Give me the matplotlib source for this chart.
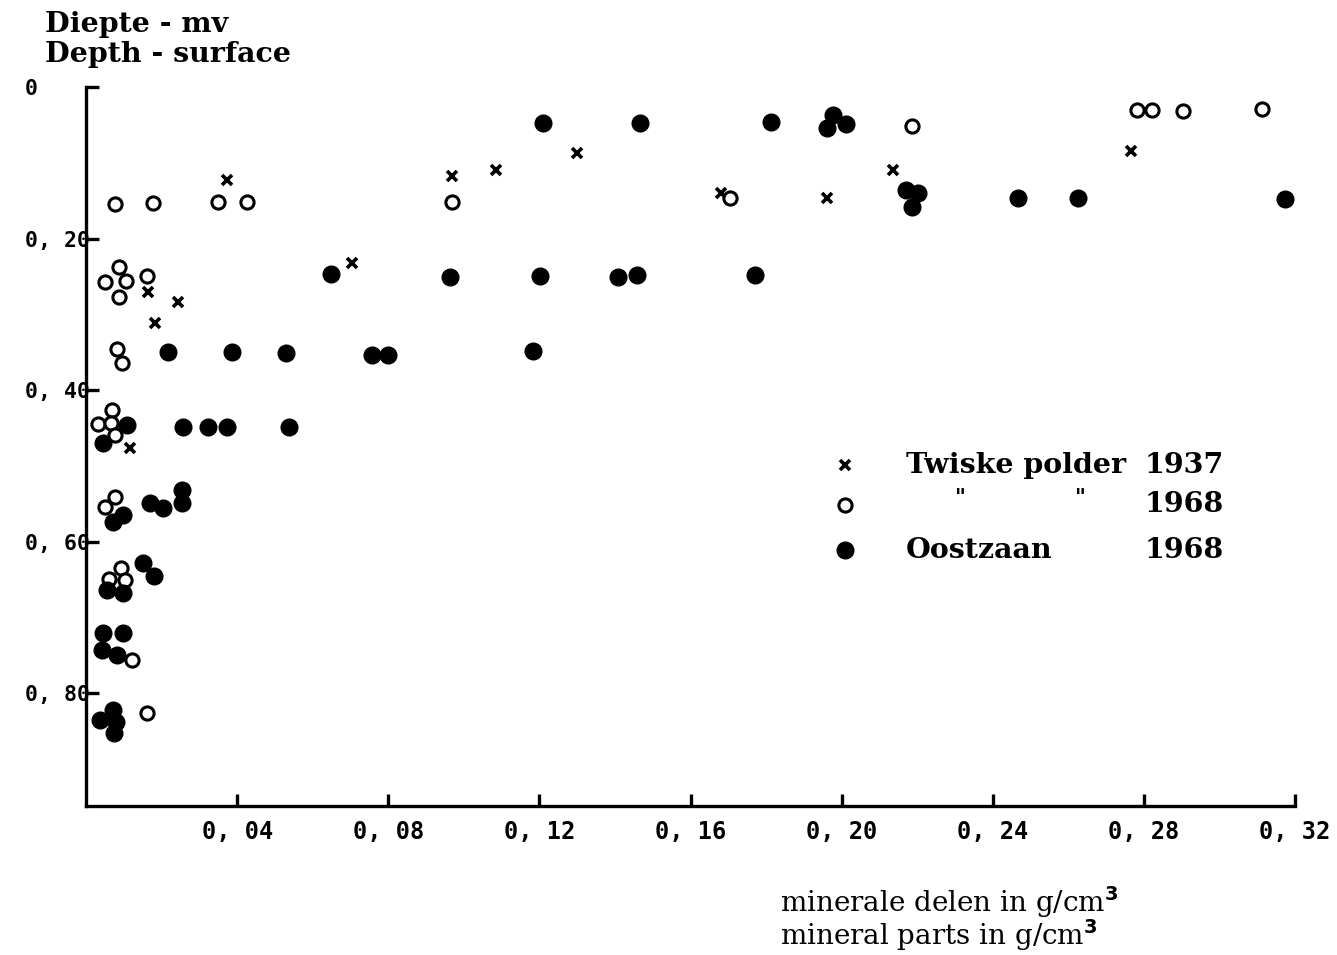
import matplotlib
matplotlib.use("Agg")
import matplotlib.pyplot as plt

# mineral parts (g/cm3) vs depth (m)
twiske37_x = [0.0373, 0.0164, 0.0244, 0.0183, 0.0116, 0.0704, 0.0969, 0.1085,
              0.130, 0.168, 0.2136, 0.196, 0.2766]
twiske37_d = [0.123, 0.271, 0.284, 0.312, 0.477, 0.232, 0.117, 0.110,
              0.087, 0.140, 0.110, 0.147, 0.0845]

twiske68_x = [0.0077, 0.0177, 0.035, 0.0426, 0.0969, 0.1705, 0.2187, 0.2782,
              0.2822, 0.2904, 0.3113,
              0.0087, 0.005, 0.0106, 0.0087, 0.0161,
              0.0082, 0.0095,
              0.0069, 0.0032, 0.0066, 0.0077,
              0.0077, 0.005,
              0.0093, 0.0061, 0.0103,
              0.0122, 0.0161]
twiske68_d = [0.154, 0.153, 0.152, 0.152, 0.152, 0.147, 0.0515, 0.030,
              0.030, 0.032, 0.029,
              0.238, 0.257, 0.256, 0.277, 0.250,
              0.346, 0.364,
              0.426, 0.445, 0.444, 0.459,
              0.541, 0.554,
              0.635, 0.650, 0.651,
              0.756, 0.826]

oostzaan_x = [0.121, 0.1467, 0.1813, 0.196, 0.1977, 0.2012,
              0.217, 0.2203, 0.2187, 0.2467, 0.2626, 0.3174,
              0.0649, 0.0964, 0.1202, 0.1408, 0.1459, 0.1771,
              0.0217, 0.0386, 0.0529, 0.0757, 0.0799, 0.1183,
              0.0257, 0.0323, 0.0373, 0.0537, 0.0109, 0.0045,
              0.0098, 0.0071, 0.0169, 0.0204, 0.0254, 0.0254,
              0.0056, 0.0098, 0.0151, 0.018,
              0.0045, 0.0098, 0.0042, 0.0082,
              0.0071, 0.0037, 0.0079, 0.0075]
oostzaan_d = [0.048, 0.048, 0.046, 0.054, 0.037, 0.049,
              0.136, 0.140, 0.158, 0.1465, 0.1465, 0.148,
              0.247, 0.251, 0.2495, 0.251, 0.248, 0.248,
              0.350, 0.350, 0.351, 0.354, 0.354, 0.3485,
              0.449, 0.449, 0.449, 0.449, 0.446, 0.470,
              0.565, 0.574, 0.549, 0.556, 0.532, 0.549,
              0.664, 0.668, 0.628, 0.646,
              0.721, 0.721, 0.743, 0.750,
              0.822, 0.836, 0.838, 0.852]

xticks = [0.04, 0.08, 0.12, 0.16, 0.20, 0.24, 0.28, 0.32]
xticklabels = ["0, 04", "0, 08", "0, 12", "0, 16", "0, 20", "0, 24", "0, 28", "0, 32"]
yticks = [0, 0.2, 0.4, 0.6, 0.8]
yticklabels = ["0", "0, 20", "0, 40", "0, 60", "0, 80"]

fig = plt.figure(figsize=(13.37, 9.55), dpi=100)
ax = fig.add_axes([86 / 1337, 1 - 806 / 955, (1295 - 86) / 1337, (806 - 87) / 955])

ax.plot(twiske37_x, twiske37_d, ls="none", marker="x", ms=7, mew=2.6, color="black")
ax.plot(twiske68_x, twiske68_d, ls="none", marker="o", ms=9.5, mew=2.2,
        mfc="white", mec="black")
ax.plot(oostzaan_x, oostzaan_d, ls="none", marker="o", ms=12, color="black")

ax.set_xlim(0, 0.32)
ax.set_ylim(0.949, 0)
for s in ["top", "right"]:
    ax.spines[s].set_visible(False)
for s in ["left", "bottom"]:
    ax.spines[s].set_linewidth(2.4)

ax.set_xticks(xticks)
ax.set_xticklabels(xticklabels, family="DejaVu Sans Mono", fontweight="bold", fontsize=17)
ax.set_yticks(yticks)
ax.set_yticklabels(yticklabels, family="DejaVu Sans Mono", fontweight="bold", fontsize=15.5)
ax.tick_params(direction="in", length=9, width=2.4)
ax.tick_params(axis="x", pad=10)
ax.tick_params(axis="y", pad=44)
for lab in ax.get_yticklabels():
    lab.set_horizontalalignment("left")

title_font = dict(family="DejaVu Serif", fontweight="bold", fontsize=20.5)
fig.text(45 / 1337, 1 - 24 / 955, "Diepte - mv", va="center", ha="left", **title_font)
fig.text(45 / 1337, 1 - 55 / 955, "Depth - surface", va="center", ha="left", **title_font)

lab_font = dict(family="DejaVu Serif", fontsize=20)
fig.text(780 / 1337, 1 - 902 / 955, "minerale delen in g/cm$^\\mathbf{3}$", va="center", ha="left", **lab_font)
fig.text(780 / 1337, 1 - 935 / 955, "mineral parts in g/cm$^\\mathbf{3}$", va="center", ha="left", **lab_font)

# legend drawn by hand (ditto marks in the original)
leg_x = (845 - 86) / (1295 - 86)
txt_x = (906 - 86) / (1295 - 86)
yr_x = (1145 - 86) / (1295 - 86)
rows = [(465, dict(marker="x", ms=7, mew=2.6, color="black"), "Twiske polder", "1937"),
        (505, dict(marker="o", ms=9.5, mew=2.2, mfc="white", mec="black"), "", "1968"),
        (550, dict(marker="o", ms=12, color="black"), "Oostzaan", "1968")]
for py, mk, name, yr in rows:
    ya = (806 - py) / (806 - 87)
    ax.plot([leg_x], [ya], ls="none", transform=ax.transAxes, clip_on=False, **mk)
    ax.text(txt_x, ya, name, transform=ax.transAxes, va="center", ha="left", **title_font)
    ax.text(yr_x, ya, yr, transform=ax.transAxes, va="center", ha="left", **title_font)
ya = (806 - 497) / (806 - 87)
ditto = dict(family="DejaVu Serif", fontweight="bold", fontsize=15)
ax.text((955 - 86) / (1295 - 86), ya, '"', transform=ax.transAxes, va="center", ha="left", **ditto)
ax.text((1075 - 86) / (1295 - 86), ya, '"', transform=ax.transAxes, va="center", ha="left", **ditto)

fig.savefig("out.png", dpi=100)
